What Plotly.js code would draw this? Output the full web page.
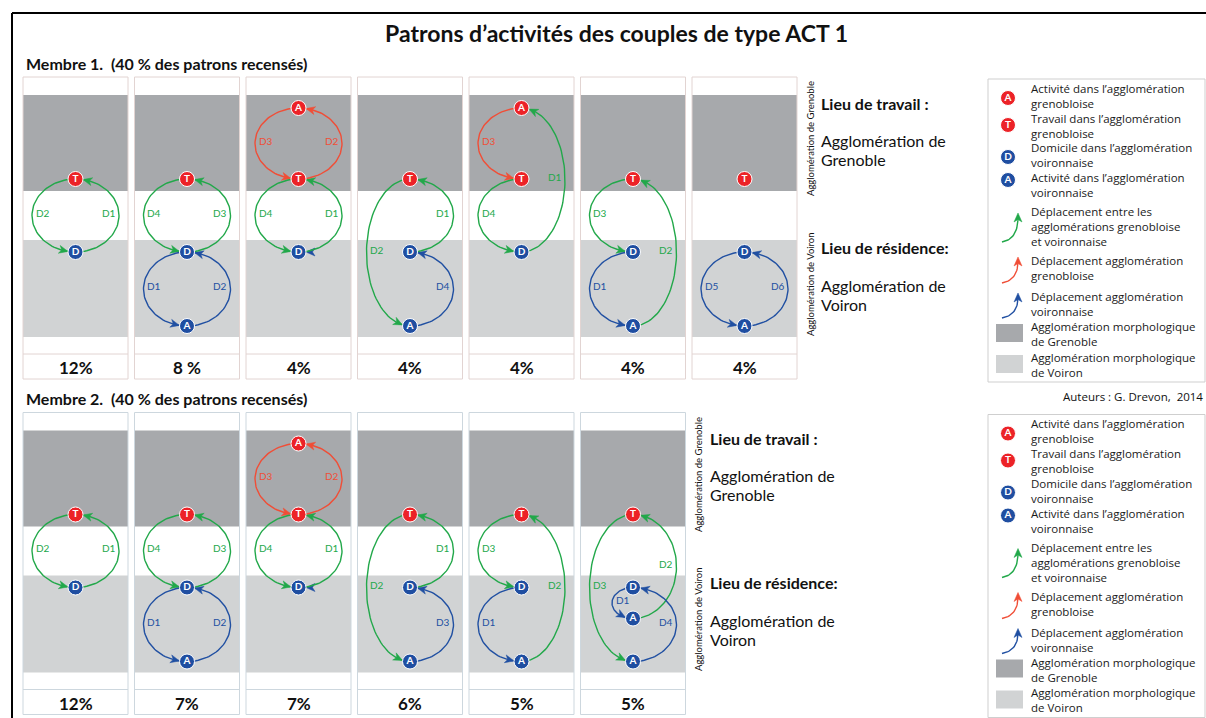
<!DOCTYPE html>
<html><head><meta charset="utf-8">
<script src="https://cdn.plot.ly/plotly-3.0.1.min.js"></script>
<style>html,body{margin:0;padding:0;background:#fff}#chart{width:1206px;height:718px}</style>
</head><body><div id="chart"></div>
<script>
// ---------------- DATA ----------------
const chartTitle = "Patrons d’activités des couples de type ACT 1";
const memberTitles = ["Membre 1.  (40 % des patrons recensés)", "Membre 2.  (40 % des patrons recensés)"];
const member1Pct = ["12%", "8 %", "4%", "4%", "4%", "4%", "4%"];
const member2Pct = ["12%", "7%", "7%", "6%", "5%", "5%"];
// node codes: AG = activité Grenoble, T = travail, D = domicile, AM / AV = activités Voiron
const member1Nodes = [["T","D"],["T","D","AV"],["AG","T","D"],["T","D","AV"],["AG","T","D"],["T","D","AV"],["T","D","AV"]];
const member2Nodes = [["T","D"],["T","D","AV"],["AG","T","D"],["T","D","AV"],["T","D","AV"],["T","D","AM","AV"]];
// trips: [from, to, side, label, mode(g = entre agglomérations, r = Grenoble, b = Voiron), kind]
const member1Trips = [
  [["D","T","R","D1","g"],["T","D","L","D2","g"]],
  [["D","T","R","D3","g"],["T","D","L","D4","g"],["D","AV","L","D1","b"],["AV","D","R","D2","b"]],
  [["T","AG","R","D2","r"],["AG","T","L","D3","r"],["D","T","R","D1","g"],["T","D","L","D4","g"]],
  [["D","T","R","D1","g"],["T","AV","L","D2","g"],["AV","D","R","D4","b"]],
  [["D","AG","R","D1","g"],["AG","T","L","D3","r"],["T","D","L","D4","g"]],
  [["T","D","L","D3","g"],["D","AV","L","D1","b"],["AV","T","R","D2","g"]],
  [["D","AV","L","D5","b"],["AV","D","R","D6","b"]]
];
const member2Trips = [
  [["D","T","R","D1","g"],["T","D","L","D2","g"]],
  [["D","T","R","D3","g"],["T","D","L","D4","g"],["D","AV","L","D1","b"],["AV","D","R","D2","b"]],
  [["T","AG","R","D2","r"],["AG","T","L","D3","r"],["D","T","R","D1","g"],["T","D","L","D4","g"]],
  [["D","T","R","D1","g"],["T","AV","L","D2","g"],["AV","D","R","D3","b"]],
  [["T","D","L","D3","g"],["D","AV","L","D1","b"],["AV","T","R","D2","g"]],
  [["T","AV","L","D3","g"],["D","AM","L","D1","b","inner"],["AM","T","R","D2","g"],["AV","D","R","D4","b"]]
];
// stray arrowheads present in the original: [panel, node, side, mode]
const member1ExtraHeads = [[2,"D","R","b"]];
const member2ExtraHeads = [[2,"D","R","b"]];
const zoneLabels = ["Agglomération de Grenoble", "Agglomération de Voiron"];
const placeHeads = ["Lieu de travail :", "Lieu de résidence:"];
const placeNames = [["Agglomération de", "Grenoble"], ["Agglomération de", "Voiron"]];
const legendNodeCodes = ["AG", "T", "D", "AV"];
const legendNodeLabels = [
  ["Activité dans l’agglomération", "grenobloise"],
  ["Travail dans l’agglomération", "grenobloise"],
  ["Domicile dans l’agglomération", "voironnaise"],
  ["Activité dans l’agglomération", "voironnaise"]
];
const legendTripModes = ["g", "r", "b"];
const legendTripLabels = [
  ["Déplacement entre les", "agglomérations grenobloise", "et voironnaise"],
  ["Déplacement agglomération", "grenobloise"],
  ["Déplacement agglomération", "voironnaise"]
];
const legendZoneLabels = [
  ["Agglomération morphologique", "de Grenoble"],
  ["Agglomération morphologique", "de Voiron"]
];
const credit = "Auteurs : G. Drevon,  2014";

// ---------------- STYLE / LAYOUT ----------------
const W = 1206, H = 718;
const FONT = "Lato, 'Open Sans', sans-serif";
const LEG_FONT = "'Open Sans', Lato, sans-serif";
const COL = {g:"#22a84a", r:"#f04e37", b:"#2150a2", nodeRed:"#ec2227", nodeBlue:"#1f4ea1",
             dark:"#a7a9ac", light:"#d1d3d4", ink:"#111111"};
const PANEL_X0 = 23, PANEL_STEP = 111.5, PANEL_W = 105;
const ROW_Y0 = [77, 412.5];
const OFF = {darkTop:18, darkBot:114, lightTop:163, lightBot:260, pctTop:277, pctBot:302};
const NODE_OFF = {AG:31, T:102, D:175, AM:206, AV:249};
const NODE_RED = {AG:true, T:true, D:false, AM:false, AV:false};
const NODE_LET = {AG:"A", T:"T", D:"D", AM:"A", AV:"A"};
const PANEL_BORDER = ["#e2d4d2", "#cdd7de"];
const NODE_R = 7.5, RX = 43.5, RX_INNER = 21, HEAD_L = 9, HEAD_W = 4;

const shapes = [], annotations = [];
const lines = {g:{x:[],y:[]}, r:{x:[],y:[]}, b:{x:[],y:[]}};
const nodesRed = {x:[],y:[],t:[]}, nodesBlue = {x:[],y:[],t:[]};

function rect(x0,y0,x1,y1,fill,lineCol,lw){
  shapes.push({type:"rect",xref:"x",yref:"y",x0,y0,x1,y1,fillcolor:fill||"rgba(0,0,0,0)",
    line:{color:lineCol||"rgba(0,0,0,0)",width:lw||0},layer:"below"});
}
function seg(x0,y0,x1,y1,col,w){
  shapes.push({type:"line",xref:"x",yref:"y",x0,y0,x1,y1,line:{color:col,width:w},layer:"below"});
}
function text(x,y,t,opt){
  opt = opt||{};
  annotations.push({xref:"x",yref:"y",x,y,text:t,showarrow:false,align:"left",
    xanchor:opt.xa||"left",yanchor:opt.ya||"middle",textangle:opt.angle||0,borderpad:0,
    font:{family:opt.family||FONT,size:opt.size||12,color:opt.color||COL.ink,weight:opt.weight||"normal"}});
}
function head(tx,ty,dx,dy,col){
  const n = Math.hypot(dx,dy); dx/=n; dy/=n;
  const px=-dy, py=dx;
  const bx=tx-dx*HEAD_L, by=ty-dy*HEAD_L, nx=tx-dx*HEAD_L*0.72, ny=ty-dy*HEAD_L*0.72;
  shapes.push({type:"path",xref:"x",yref:"y",layer:"below",fillcolor:col,line:{color:col,width:0.5},
    path:`M${tx},${ty} L${bx+px*HEAD_W},${by+py*HEAD_W} L${nx},${ny} L${bx-px*HEAD_W},${by-py*HEAD_W} Z`});
}
function addNode(x,y,code){
  const tgt = NODE_RED[code] ? nodesRed : nodesBlue;
  tgt.x.push(x); tgt.y.push(y); tgt.t.push("<b>"+NODE_LET[code]+"</b>");
}
function addArc(cx,y1,y2,side,rx,mode,label){
  const s = side==="R"?1:-1, cy=(y1+y2)/2;
  const P = t => [cx+s*rx*Math.sin(t), cy+(y1-cy)*Math.cos(t)];
  const L = lines[mode];
  for(let i=0;i<=60;i++){const p=P(Math.PI*i/60); L.x.push(p[0]); L.y.push(p[1]);}
  L.x.push(null); L.y.push(null);
  const tt = Math.PI - Math.asin(NODE_R/rx);
  const tb = Math.PI - Math.asin(Math.min(0.999,(NODE_R+HEAD_L)/rx));
  const a=P(tt), b=P(tb);
  head(a[0],a[1],a[0]-b[0],a[1]-b[1],COL[mode]);
  const lx = s>0 ? cx+rx-2.5 : cx-rx+2.5;
  text(lx, cy-3, label, {xa: s>0?"right":"left", size:10, color:COL[mode]});
}

function drawLegend(Y0){
  const lt = (y,arr)=>text(1030,Y0+y,arr.join("<br>"),{size:11.5,family:LEG_FONT,color:"#1a1a1a"});
  rect(988,Y0+2,1205,Y0+305,"#ffffff","#cfcfcf",1);
  const iconY=[21,48,80,103];
  const textY=[18.5,48.5,78,108];
  legendNodeCodes.forEach((c,i)=>{
    addNode(1008,Y0+iconY[i],c);
    lt(textY[i],legendNodeLabels[i]);
  });
  const tripTextY=[149.5,191,227];
  const tripStart=[165,206,241], tripTip=[136,180,216];
  legendTripModes.forEach((m,i)=>{
    const p0=[1002,Y0+tripStart[i]], p2=[1018,Y0+tripTip[i]+3], p1=[1018.5,Y0+tripStart[i]-3];
    const L=lines[m];
    for(let k=0;k<=20;k++){const t=k/20;
      L.x.push((1-t)*(1-t)*p0[0]+2*(1-t)*t*p1[0]+t*t*p2[0]);
      L.y.push((1-t)*(1-t)*p0[1]+2*(1-t)*t*p1[1]+t*t*p2[1]);}
    L.x.push(null); L.y.push(null);
    head(1018,Y0+tripTip[i],0,-1,COL[m]);
    lt(tripTextY[i],legendTripLabels[i]);
  });
  const zoneY=[[247,265],[278,296]], zoneTextY=[257,287.5];
  [COL.dark,COL.light].forEach((c,i)=>{
    rect(996,Y0+zoneY[i][0],1023,Y0+zoneY[i][1],c);
    lt(zoneTextY[i],legendZoneLabels[i]);
  });
}

function drawRow(r, pct, nodes, trips, extras){
  const Y0 = ROW_Y0[r];
  pct.forEach((p,i)=>{
    const x0 = PANEL_X0 + i*PANEL_STEP, x1 = x0+PANEL_W, cx = x0+PANEL_W/2;
    rect(x0,Y0,x1,Y0+OFF.pctBot,"#ffffff");
    rect(x0,Y0+OFF.darkTop,x1,Y0+OFF.darkBot,COL.dark);
    rect(x0,Y0+OFF.lightTop,x1,Y0+OFF.lightBot,COL.light);
    rect(x0,Y0,x1,Y0+OFF.pctBot,null,PANEL_BORDER[r],1);
    seg(x0,Y0+OFF.pctTop,x1,Y0+OFF.pctTop,PANEL_BORDER[r],1);
    text(cx,Y0+(OFF.pctTop+OFF.pctBot)/2+1,p,{xa:"center",size:17,weight:"bold"});
    trips[i].forEach(tr=>{
      const rx = tr[5]==="inner" ? RX_INNER : RX;
      addArc(cx, Y0+NODE_OFF[tr[0]], Y0+NODE_OFF[tr[1]], tr[2], rx, tr[4], tr[3]);
    });
    nodes[i].forEach(c=>addNode(cx,Y0+NODE_OFF[c],c));
  });
  extras.forEach(e=>{
    const cx = PANEL_X0 + e[0]*PANEL_STEP + PANEL_W/2, s = e[2]==="R"?1:-1;
    head(cx+s*NODE_R, Y0+NODE_OFF[e[1]], -s, 0, COL[e[3]]);
  });
  const right = PANEL_X0 + (pct.length-1)*PANEL_STEP + PANEL_W;
  text(right+13, Y0+62, zoneLabels[0], {xa:"center", angle:-90, size:9.5});
  text(right+13, Y0+207, zoneLabels[1], {xa:"center", angle:-90, size:9.5});
  const tx = right+23;
  text(tx, Y0+26, placeHeads[0], {size:16, weight:"bold"});
  text(tx, Y0+63, placeNames[0][0], {size:16});
  text(tx, Y0+82, placeNames[0][1], {size:16});
  text(tx, Y0+170, placeHeads[1], {size:16, weight:"bold"});
  text(tx, Y0+208, placeNames[1][0], {size:16});
  text(tx, Y0+227, placeNames[1][1], {size:16});
  text(25, Y0-14, memberTitles[r], {size:16, weight:"bold"});
  drawLegend(Y0);
}

// frame
seg(12,13,W,13,"#000",2);
seg(12,13,12,H,"#000",2);
text(616,33,chartTitle,{xa:"center",size:23,weight:"bold"});

drawRow(0, member1Pct, member1Nodes, member1Trips, member1ExtraHeads);
drawRow(1, member2Pct, member2Nodes, member2Trips, member2ExtraHeads);
text(1204, ROW_Y0[0]+319, credit, {xa:"right", size:11.5, family:LEG_FONT});

const traces = [];
["g","r","b"].forEach(m=>traces.push({type:"scatter",mode:"lines",x:lines[m].x,y:lines[m].y,
  line:{color:COL[m],width:1.4},hoverinfo:"skip",showlegend:false,connectgaps:false}));
[[nodesRed,COL.nodeRed],[nodesBlue,COL.nodeBlue]].forEach(([n,c])=>traces.push({type:"scatter",
  mode:"markers+text",x:n.x,y:n.y,text:n.t,textposition:"middle center",
  textfont:{family:FONT,size:10,color:"#ffffff"},
  marker:{size:15,color:c,line:{color:"#ffffff",width:1}},hoverinfo:"skip",showlegend:false,cliponaxis:false}));

const layout = {
  width:W, height:H, margin:{l:0,r:0,t:0,b:0}, paper_bgcolor:"#fff", plot_bgcolor:"#fff",
  xaxis:{range:[0,W],visible:false,fixedrange:true},
  yaxis:{range:[H,0],visible:false,fixedrange:true},
  shapes, annotations, showlegend:false
};
Plotly.newPlot("chart", traces, layout, {staticPlot:true, displayModeBar:false});
</script></body></html>
